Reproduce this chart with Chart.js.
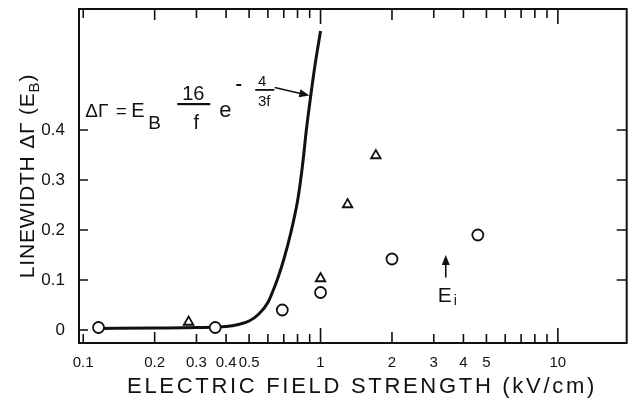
<!DOCTYPE html>
<html>
<head>
<meta charset="utf-8">
<script src="https://cdn.jsdelivr.net/npm/chart.js@4.4.1/dist/chart.umd.min.js"></script>
<style>
  html, body { margin: 0; padding: 0; background: #fff; }
  #wrap { width: 634px; height: 400px; position: relative; }
</style>
</head>
<body>
<div id="wrap"><canvas id="myChart"></canvas></div>
<script>
// field strength (kV/cm) vs linewidth (E_B)
const curveField = [0.116, 0.2, 0.3, 0.4, 0.45, 0.5, 0.55, 0.6, 0.63, 0.66, 0.7, 0.75, 0.8, 0.823, 0.847, 0.868, 0.909, 0.95, 1.0];
const curveWidth = [0.003, 0.004, 0.005, 0.007, 0.011, 0.018, 0.032, 0.055, 0.078, 0.103, 0.141, 0.195, 0.258, 0.297, 0.345, 0.393, 0.468, 0.533, 0.598];

const circleField = [0.116, 0.36, 0.69, 1.0, 2.0, 4.6];
const circleWidth = [0.005, 0.005, 0.04, 0.075, 0.142, 0.19];

const triangleField = [0.278, 1.0, 1.3, 1.71];
const triangleWidth = [0.016, 0.103, 0.251, 0.349];

const xTickValues = [0.1, 0.2, 0.3, 0.4, 0.5, 0.6, 0.7, 0.8, 0.9, 1, 2, 3, 4, 5, 6, 7, 8, 9, 10];
const xTickLabels = { 0.1: '0.1', 0.2: '0.2', 0.3: '0.3', 0.4: '0.4', 0.5: '0.5', 1: '1', 2: '2', 3: '3', 4: '4', 5: '5', 10: '10' };
const yTickValues = [0, 0.1, 0.2, 0.3, 0.4];

const toPoints = (xs, ys) => xs.map((x, i) => ({ x: x, y: ys[i] }));

const FONT = '"Liberation Sans", Arial, sans-serif';
const INK = '#111';

const framePlugin = {
  id: 'frame',
  afterDraw(chart) {
    const { ctx, chartArea: a, scales } = chart;
    const xs = scales.x, ys = scales.y;
    ctx.save();
    ctx.strokeStyle = INK;
    ctx.fillStyle = INK;
    ctx.lineWidth = 2;
    ctx.strokeRect(a.left, a.top, a.right - a.left, a.bottom - a.top);

    // inward ticks on all four sides
    ctx.lineWidth = 1.6;
    xTickValues.forEach(v => {
      const px = xs.getPixelForValue(v);
      const major = (v === 1 || v === 10);
      const len = major ? 15 : (v === 0.2 || v === 2 ? 11 : 9);
      ctx.beginPath();
      ctx.moveTo(px, a.bottom); ctx.lineTo(px, a.bottom - len);
      ctx.moveTo(px, a.top); ctx.lineTo(px, a.top + len);
      ctx.stroke();
    });
    yTickValues.forEach(v => {
      const py = ys.getPixelForValue(v);
      ctx.beginPath();
      ctx.moveTo(a.left, py); ctx.lineTo(a.left + 9, py);
      if (v > 0) { ctx.moveTo(a.right, py); ctx.lineTo(a.right - 10, py); }
      ctx.stroke();
    });

    // axis titles
    ctx.letterSpacing = '2.7px';
    ctx.font = '22px ' + FONT;
    ctx.textAlign = 'center';
    ctx.textBaseline = 'alphabetic';
    ctx.fillText('ELECTRIC FIELD STRENGTH (kV/cm)', 362, 393);

    ctx.save();
    ctx.translate(34, 176);
    ctx.rotate(-Math.PI / 2);
    ctx.letterSpacing = '0.8px';
    ctx.textAlign = 'left';
    ctx.font = '21px ' + FONT;
    const t1 = 'LINEWIDTH \u0394\u0393 (E';
    const w1 = ctx.measureText(t1).width;
    const w2 = ctx.measureText(')').width;
    ctx.font = '15px ' + FONT;
    const wb = ctx.measureText('B').width;
    const sx = -(w1 + wb + w2) / 2;
    ctx.font = '21px ' + FONT;
    ctx.fillText(t1, sx, 0);
    ctx.font = '15px ' + FONT;
    ctx.fillText('B', sx + w1, 5);
    ctx.font = '21px ' + FONT;
    ctx.fillText(')', sx + w1 + wb, 0);
    ctx.restore();
    ctx.letterSpacing = '0px';

    // formula annotation
    const fx = xs.getPixelForValue(0.102);
    const fy = ys.getPixelForValue(0.426);
    ctx.textAlign = 'left';
    ctx.font = '19px ' + FONT;
    ctx.fillText('\u0394\u0393', fx, fy);
    ctx.textAlign = 'center';
    ctx.fillText('=', fx + 36, fy);
    ctx.textAlign = 'left';
    ctx.font = '20px ' + FONT;
    ctx.fillText('E', fx + 46, fy);
    ctx.font = '19px ' + FONT;
    ctx.fillText('B', fx + 63, fy + 12);
    ctx.textAlign = 'center';
    ctx.font = '20px ' + FONT;
    ctx.fillText('16', fx + 108, fy - 17);
    ctx.fillText('f', fx + 111, fy + 12);
    ctx.fillRect(fx + 92, fy - 14, 33, 2.2);
    ctx.font = '22px ' + FONT;
    ctx.fillText('e', fx + 140, fy);
    ctx.fillRect(fx + 151, fy - 33, 5, 2);
    ctx.font = '15px ' + FONT;
    ctx.fillText('4', fx + 177, fy - 31);
    ctx.fillText('3f', fx + 179, fy - 11);
    ctx.fillRect(fx + 170, fy - 28, 19, 1.8);

    // arrow from formula to curve
    drawArrow(ctx, xs.getPixelForValue(0.641), ys.getPixelForValue(0.485),
                   xs.getPixelForValue(0.897), ys.getPixelForValue(0.469));

    // E_i marker
    const ex = xs.getPixelForValue(3.37);
    drawArrow(ctx, ex, ys.getPixelForValue(0.105), ex, ys.getPixelForValue(0.15));
    ctx.textAlign = 'left';
    ctx.font = '21px ' + FONT;
    ctx.fillText('E', ex - 8, ys.getPixelForValue(0.057));
    ctx.font = '14px ' + FONT;
    ctx.fillText('i', ex + 8, ys.getPixelForValue(0.051));
    ctx.restore();
  }
};

function drawArrow(ctx, x1, y1, x2, y2) {
  const ang = Math.atan2(y2 - y1, x2 - x1);
  const head = 10, half = 4;
  ctx.lineWidth = 1.6;
  ctx.beginPath();
  ctx.moveTo(x1, y1);
  ctx.lineTo(x2 - Math.cos(ang) * head * 0.8, y2 - Math.sin(ang) * head * 0.8);
  ctx.stroke();
  ctx.beginPath();
  ctx.moveTo(x2, y2);
  ctx.lineTo(x2 - Math.cos(ang) * head - Math.sin(ang) * half, y2 - Math.sin(ang) * head + Math.cos(ang) * half);
  ctx.lineTo(x2 - Math.cos(ang) * head + Math.sin(ang) * half, y2 - Math.sin(ang) * head - Math.cos(ang) * half);
  ctx.closePath();
  ctx.fill();
}

const ctx = document.getElementById('myChart').getContext('2d');
new Chart(ctx, {
  type: 'scatter',
  data: {
    datasets: [
      {
        label: 'theory',
        type: 'line',
        data: toPoints(curveField, curveWidth),
        borderColor: INK,
        borderWidth: 3,
        pointRadius: 0,
        cubicInterpolationMode: 'monotone',
        fill: false,
        order: 3
      },
      {
        label: 'circles',
        data: toPoints(circleField, circleWidth),
        pointStyle: 'circle',
        pointRadius: 5.5,
        borderColor: INK,
        borderWidth: 1.8,
        backgroundColor: '#fff',
        order: 1
      },
      {
        label: 'triangles',
        data: toPoints(triangleField, triangleWidth),
        pointStyle: 'triangle',
        pointRadius: 5.5,
        borderColor: INK,
        borderWidth: 1.8,
        backgroundColor: '#fff',
        order: 2
      }
    ]
  },
  options: {
    responsive: true,
    maintainAspectRatio: false,
    animation: false,
    layout: { padding: { top: 9, right: 1, left: 0, bottom: 0 } },
    plugins: { legend: { display: false }, tooltip: { enabled: false } },
    scales: {
      x: {
        type: 'logarithmic',
        min: 0.096,
        max: 19.5,
        afterBuildTicks: (s) => { s.ticks = xTickValues.map(v => ({ value: v })); },
        afterFit: (s) => { s.height = 57; s.paddingLeft = 0; s.paddingRight = 0; },
        grid: { display: false, drawTicks: false },
        border: { display: false },
        ticks: {
          autoSkip: false,
          maxRotation: 0,
          padding: 11,
          color: INK,
          font: { family: FONT, size: 15 },
          callback: (v) => xTickLabels[v] !== undefined ? xTickLabels[v] : ''
        }
      },
      y: {
        min: -0.026,
        max: 0.642,
        afterBuildTicks: (s) => { s.ticks = yTickValues.map(v => ({ value: v })); },
        afterFit: (s) => { s.width = 79; s.paddingTop = 0; s.paddingBottom = 0; },
        grid: { display: false, drawTicks: false },
        border: { display: false },
        ticks: {
          padding: 14,
          color: INK,
          font: { family: FONT, size: 17 },
          callback: (v) => v === 0 ? '0' : v.toFixed(1)
        }
      }
    }
  },
  plugins: [framePlugin]
});
</script>
</body>
</html>
